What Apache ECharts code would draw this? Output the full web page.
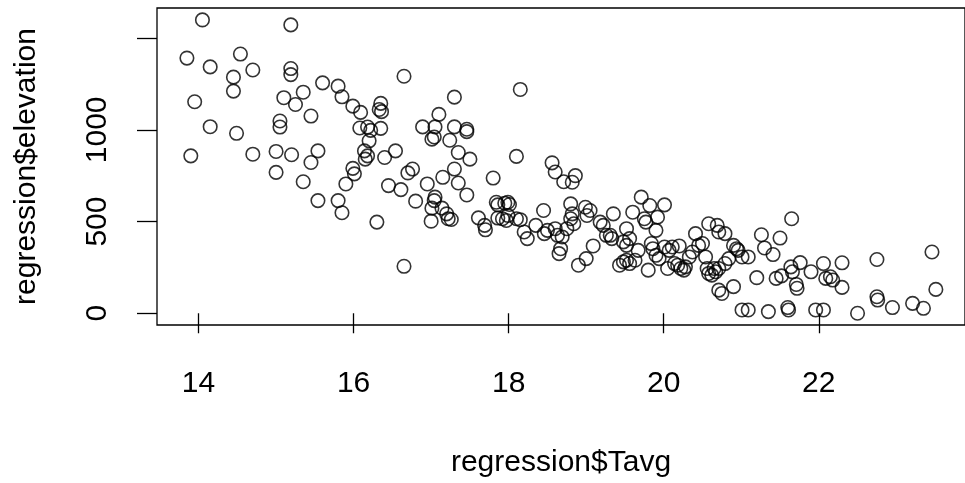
<!DOCTYPE html>
<html>
<head>
<meta charset="utf-8">
<script src="https://cdn.jsdelivr.net/npm/echarts@6/dist/echarts.min.js"></script>
<style>
html,body{margin:0;padding:0;background:#fff;}
#chart{width:965px;height:483px;}
</style>
</head>
<body>
<div id="chart"></div>
<script>
// Tavg (x) values
const tavg = [
14.05,15.19,13.85,14.15,14.54,14.70,14.45,15.19,15.19,14.45,13.95,15.10,15.35,15.25,15.60,15.80,15.85,15.99,16.09,15.45,
15.05,15.05,14.15,14.49,13.90,14.70,15.00,15.20,15.54,15.45,15.00,15.35,16.08,15.99,16.01,15.54,15.80,15.85,15.90,
16.65,18.15,17.30,16.35,16.33,16.36,17.10,16.89,17.05,17.30,17.46,17.46,17.01,17.04,17.24,17.35,17.50,18.10,16.54,16.40,
16.18,16.22,16.35,16.20,16.14,16.18,16.15,16.76,16.70,18.56,18.60,
16.45,16.61,16.95,17.15,17.30,17.35,17.46,16.80,17.05,17.04,17.01,17.14,17.20,17.22,17.26,17.00,16.30,16.65,17.80,17.61,
17.69,17.70,17.84,17.86,17.95,17.99,18.01,17.86,17.92,17.97,17.99,18.10,18.15,18.45,18.20,18.24,18.35,18.46,18.50,18.63,
18.65,18.67,
18.71,18.82,18.86,18.80,18.99,19.05,19.01,18.82,18.80,18.84,18.75,18.60,18.69,18.90,19.00,19.09,19.18,19.22,19.35,19.26,
19.31,19.33,19.52,19.56,19.52,19.48,19.60,19.71,19.82,19.75,19.77,19.92,20.01,19.90,19.84,19.86,19.67,19.63,19.43,19.48,
19.52,19.56,19.80,19.90,19.94,20.01,20.07,20.11,20.20,20.05,20.14,20.18,20.22,20.26,20.28,20.33,20.37,20.41,20.45,20.50,
20.54,20.56,20.58,20.69,20.71,20.79,20.58,20.62,20.67,20.71,20.65,20.71,20.75,20.90,20.84,20.79,20.90,20.94,20.96,21.01,
21.09,21.01,21.09,
21.65,21.26,21.50,21.30,21.41,21.20,21.45,21.52,21.64,21.66,21.76,21.71,21.72,21.90,22.06,22.09,22.15,22.18,22.30,22.30,
21.35,21.60,21.61,21.96,22.06,22.50,22.75,22.75,22.76,22.95,23.21,23.35,23.46,23.51
];
// elevation (y) values
const elevation = [
1599,1572,1391,1343,1413,1326,1287,1334,1301,1211,1153,1175,1205,1138,1256,1238,1180,1129,1095,1075,
1048,1015,1017,981,858,867,882,864,885,822,768,717,1010,790,760,614,614,548,705,
1292,1220,1178,1144,1111,1099,1084,1016,1016,1016,1003,990,949,961,943,876,840,855,885,849,
1015,997,1008,940,885,858,840,786,765,820,770,
696,674,705,741,786,710,645,611,633,614,573,573,542,515,511,502,497,256,737,520,
479,455,605,591,600,605,593,519,515,506,533,515,510,560,443,407,479,434,452,425,
325,352,
717,714,750,596,578,560,533,542,515,488,461,461,416,262,298,367,497,479,542,425,
425,407,461,407,370,389,551,633,587,515,497,524,591,452,380,352,343,289,262,280,
289,271,235,316,298,361,343,361,367,244,271,262,244,235,253,307,334,434,370,380,
307,244,488,479,443,434,217,208,226,244,244,126,108,145,298,271,370,352,343,307,
307,18,18,
515,428,410,356,320,194,190,204,253,226,276,157,136,226,271,190,199,181,275,141,
9,31,18,18,18,0,293,90,72,31,54,27,334,130
];
const xTicks = [14, 16, 18, 20, 22];
const yTicks = [0, 500, 1000, 1500];
const yTickLabels = [0, 500, 1000];
const xTitle = 'regression$Tavg';
const yTitle = 'regression$elevation';

const pts = tavg.map((t, i) => [t, elevation[i]]);
const font = 'Liberation Sans, Arial, Helvetica, sans-serif';
const chart = echarts.init(document.getElementById('chart'), null, {renderer: 'canvas'});
chart.setOption({
  animation: false,
  backgroundColor: '#fff',
  grid: {left: 157, top: 8, width: 817, height: 319, show: true, borderColor: '#000', borderWidth: 1.3, backgroundColor: 'transparent'},
  xAxis: {
    type: 'value', min: 13.464, max: 23.886,
    splitLine: {show: false},
    axisLine: {show: false},
    axisTick: {show: true, customValues: xTicks, length: 20, lineStyle: {color: '#000', width: 1.3}},
    axisLabel: {customValues: xTicks, margin: 44, fontSize: 30, color: '#000', fontFamily: font,
      formatter: v => String(v)},
    name: xTitle, nameLocation: 'middle', nameGap: 123,
    nameTextStyle: {fontSize: 30, color: '#000', fontFamily: font}
  },
  yAxis: {
    type: 'value', min: -64, max: 1664,
    splitLine: {show: false},
    axisLine: {show: false},
    axisTick: {show: true, customValues: yTicks, length: 20, lineStyle: {color: '#000', width: 1.3}},
    axisLabel: {customValues: yTickLabels, rotate: 90, margin: 44, fontSize: 30, color: '#000', fontFamily: font,
      formatter: v => String(v)},
    name: yTitle, nameLocation: 'middle', nameGap: 115,
    nameTextStyle: {fontSize: 30, color: '#000', fontFamily: font}
  },
  series: [{
    type: 'scatter',
    data: pts,
    symbol: 'circle',
    symbolSize: 13.5,
    itemStyle: {color: 'rgba(0,0,0,0)', borderColor: '#000', borderWidth: 1.6},
    emphasis: {disabled: true}
  }]
});
</script>
</body>
</html>
